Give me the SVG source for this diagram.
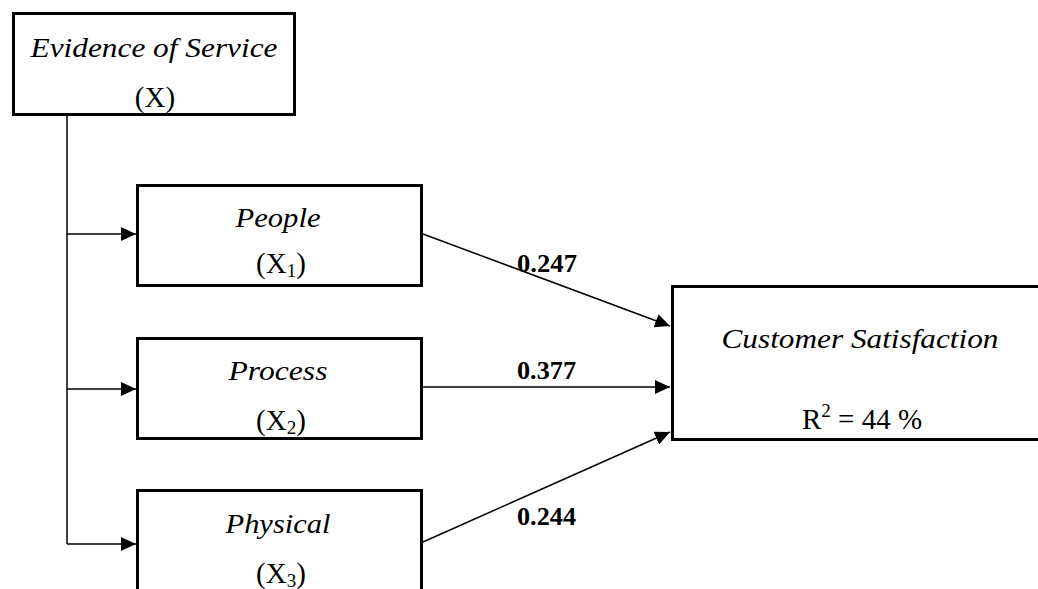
<svg xmlns="http://www.w3.org/2000/svg" width="1038" height="589" viewBox="0 0 1038 589">
<style>
.box{fill:#fff;stroke:#000;stroke-width:3}
.con{fill:none;stroke:#000;stroke-width:1.5}
.lbl{font-family:"Liberation Serif","Times New Roman",serif;font-size:28px;font-style:italic;fill:#000;text-anchor:middle}
.var{font-family:"Liberation Serif","Times New Roman",serif;font-size:29px;fill:#000;text-anchor:middle}
.coef{font-family:"Liberation Serif","Times New Roman",serif;font-size:26px;font-weight:bold;fill:#000}
</style>
<defs>
<marker id="ah" markerUnits="userSpaceOnUse" markerWidth="16" markerHeight="14" refX="15" refY="7" orient="auto">
<path d="M0,0 L15,7 L0,14 z" fill="#000"/>
</marker>
</defs>
<rect width="1038" height="589" fill="#fff"/>
<g id="connectors">
<path class="con" d="M67 115 V544"/>
<path class="con" d="M67 234 H136" marker-end="url(#ah)"/>
<path class="con" d="M67 389 H136" marker-end="url(#ah)"/>
<path class="con" d="M67 544 H136" marker-end="url(#ah)"/>
<path class="con" d="M423 234 L670 326" marker-end="url(#ah)"/>
<path class="con" d="M423 387 L670 387" marker-end="url(#ah)"/>
<path class="con" d="M423 542 L670 432" marker-end="url(#ah)"/>
<text class="coef" x="517" y="272" textLength="60" lengthAdjust="spacingAndGlyphs">0.247</text>
<text class="coef" x="517" y="379" textLength="59" lengthAdjust="spacingAndGlyphs">0.377</text>
<text class="coef" x="517" y="525" textLength="59" lengthAdjust="spacingAndGlyphs">0.244</text>
</g>
<g id="evidence">
<rect class="box" x="13.5" y="13.5" width="281" height="101"/>
<text class="lbl" x="154" y="57" textLength="247" lengthAdjust="spacingAndGlyphs">Evidence of Service</text>
<text class="var" x="155" y="107">(X)</text>
</g>
<g id="people">
<rect class="box" x="137.5" y="185.5" width="284" height="100"/>
<text class="lbl" x="278" y="227" textLength="85" lengthAdjust="spacingAndGlyphs">People</text>
<text class="var" x="281" y="273">(X<tspan font-size="19" dy="4">1</tspan><tspan dy="-4">)</tspan></text>
</g>
<g id="process">
<rect class="box" x="137.5" y="338.5" width="284" height="100"/>
<text class="lbl" x="278" y="380" textLength="99" lengthAdjust="spacingAndGlyphs">Process</text>
<text class="var" x="281" y="430">(X<tspan font-size="19" dy="4">2</tspan><tspan dy="-4">)</tspan></text>
</g>
<g id="physical">
<rect class="box" x="137.5" y="490.5" width="284" height="120"/>
<text class="lbl" x="278" y="533" textLength="105" lengthAdjust="spacingAndGlyphs">Physical</text>
<text class="var" x="281" y="583">(X<tspan font-size="19" dy="4">3</tspan><tspan dy="-4">)</tspan></text>
</g>
<g id="satisfaction">
<rect class="box" x="672.5" y="286.5" width="400" height="153"/>
<text class="lbl" x="860" y="348" textLength="277" lengthAdjust="spacingAndGlyphs">Customer Satisfaction</text>
<text class="var" x="862" y="429" font-size="31">R<tspan font-size="19" dy="-12">2</tspan><tspan dy="12"> = 44 %</tspan></text>
</g>
</svg>
